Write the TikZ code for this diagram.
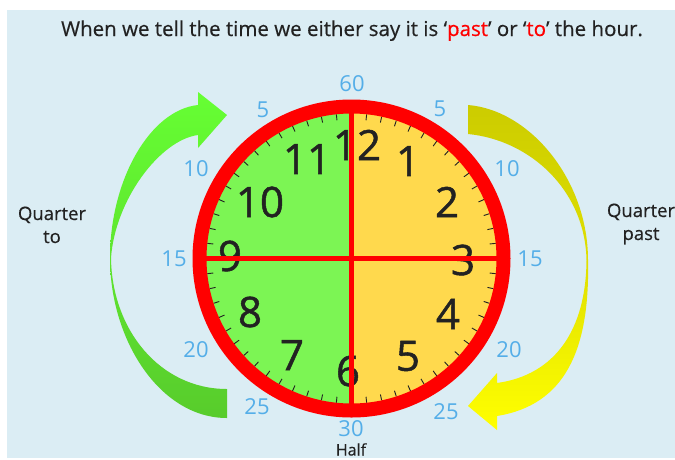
\documentclass[tikz,border=0pt]{standalone}
\usepackage{fontspec}
\setmainfont{Open Sans}
\newfontfamily\heavyfont[FakeBold=1.2]{Open Sans}
\newfontfamily\midfont[FakeBold=0.5]{Open Sans}
\definecolor{bgblue}{RGB}{219,237,244}
\definecolor{minblue}{RGB}{84,174,232}
\definecolor{numdark}{RGB}{34,34,34}
\definecolor{clockgreen}{RGB}{124,245,84}
\definecolor{clockyellow}{RGB}{255,217,77}
\definecolor{agtop}{RGB}{102,255,51}
\definecolor{agbot}{RGB}{88,204,44}
\definecolor{aytop}{RGB}{204,204,0}
\definecolor{aybot}{RGB}{255,255,0}
\definecolor{ringred}{RGB}{255,0,0}
\begin{document}
\begin{tikzpicture}[x=1pt,y=-1pt,
  minnum/.style={text=minblue,font=\fontsize{22}{22}\selectfont,inner sep=0pt},
  hournum/.style={text=numdark,font=\heavyfont\fontsize{42}{42}\selectfont,inner sep=0pt},
  sidelabel/.style={text=numdark,font=\midfont\fontsize{18.5}{22}\selectfont,inner sep=0pt,anchor=base},
  minutetick/.style={numdark,line width=0.9pt},
  crossline/.style={ringred,line width=5pt},
  ring/.style={ringred,line width=14pt}]
\useasboundingbox (0,0) rectangle (675,459);
\fill[white] (0,0) rectangle (675,459);
\fill[bgblue] (7,10) rectangle (675,458);
\coordinate (c) at (351.5,258.5);
% title
\node[text=numdark,font=\midfont\fontsize{20.5}{24}\selectfont,anchor=base,inner sep=0pt] (title) at (352,36)
  {When we tell the time we either say it is ‘\textcolor{ringred}{past}’ or ‘\textcolor{ringred}{to}’ the hour.};
% arrows
\shade[top color=agtop,bottom color=agbot]
  (227,418) .. controls (160,418) and (110,340) .. (110,258)
  .. controls (110,180) and (150,110) .. (198,105)
  -- (198,92) -- (227,115) -- (198,148) -- (198,135)
  .. controls (160,140) and (115,200) .. (111,258)
  .. controls (112,330) and (160,389) .. (227,389) -- cycle;
\shade[top color=aytop,bottom color=aybot,middle color=aytop!60!aybot]
  (468,105) .. controls (530,110) and (588,180) .. (588,260)
  .. controls (590,350) and (565,405) .. (497,416)
  -- (497,430) -- (468,406) -- (497,373) -- (497,383)
  .. controls (555,375) and (586,330) .. (586.5,260)
  .. controls (585,190) and (530,140) .. (468,134) -- cycle;
% clock face
\begin{scope}
  \clip (c) circle (146);
  \fill[clockgreen] (200,100) rectangle (351.5,420);
  \fill[clockyellow] (351.5,100) rectangle (505,420);
\end{scope}
\foreach \i in {0,...,59}
  \draw[minutetick,shift={(c)}] (\i*6:139) -- (\i*6:145);
% hour numbers
\node[hournum] (h12) at (357,145) {12};
\node[hournum] (h1) at (408,161) {1};
\node[hournum] (h2) at (447,202) {2};
\node[hournum] (h3) at (463,260) {3};
\node[hournum] (h4) at (448,314) {4};
\node[hournum] (h5) at (408,356) {5};
\node[hournum] (h6) at (348,371) {6};
\node[hournum] (h7) at (292,355) {7};
\node[hournum] (h8) at (250,312) {8};
\node[hournum] (h9) at (230,256) {9};
\node[hournum] (h10) at (260,202) {10};
\node[hournum] (h11) at (307,159) {11};
% cross lines and ring
\draw[crossline] (c) ++(-146,0) -- +(292,0);
\draw[crossline] (c) ++(0,-146) -- +(0,292);
\draw[ring] (c) circle (152);
% minute numbers
\node[minnum] (m60) at (352,84) {60};
\node[minnum] (m5r) at (440,109) {5};
\node[minnum] (m10r) at (507,169) {10};
\node[minnum] (m15r) at (530,259) {15};
\node[minnum] (m20r) at (509,350) {20};
\node[minnum] (m25r) at (446,412) {25};
\node[minnum] (m30) at (351,429) {30};
\node[minnum] (m25l) at (257,407) {25};
\node[minnum] (m20l) at (196,350) {20};
\node[minnum] (m15l) at (174,259) {15};
\node[minnum] (m10l) at (196,169) {10};
\node[minnum] (m5l) at (263,110) {5};
% side labels
\node[sidelabel] (qto1) at (52,220) {Quarter};
\node[sidelabel] (qto2) at (52,243) {to};
\node[sidelabel] (qpast1) at (641,217) {Quarter};
\node[sidelabel] (qpast2) at (641,240) {past};
\node[sidelabel,font=\midfont\fontsize{16}{18}\selectfont] (half) at (351,455.5) {Half};
\end{tikzpicture}
\end{document}
